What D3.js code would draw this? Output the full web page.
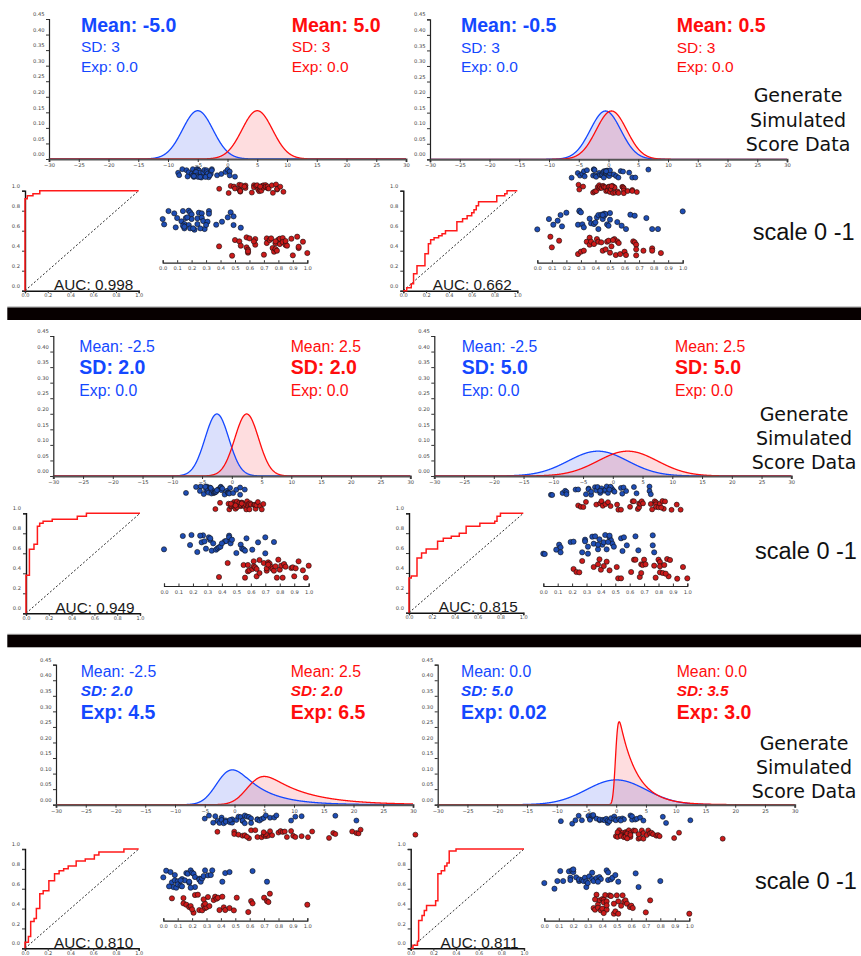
<!DOCTYPE html>
<html>
<head>
<meta charset="utf-8">
<script src="https://cdn.jsdelivr.net/npm/d3@7"></script>
<style>
body { margin: 0; background: #fff; }
svg { display: block; }
</style>
</head>
<body>
<svg id="chart" width="861" height="956"></svg>
<script>
// ---- data ----
// curve parameters per panel: [blue, red]  (gaussian mean, sd, exponential tau)
var curveMeans = [[-5, 5], [-0.5, 0.5], [-2.5, 2.5], [-2.5, 2.5], [-2.5, 2.5], [0, -0.1]]
var curveSds = [[2.57, 2.57], [2.57, 2.57], [2, 2], [5, 5], [2, 2], [5, 0.35]]
var curveTaus = [[0, 0], [0, 0], [0, 0], [0, 0], [4.5, 6.5], [0.02, 2.9]]

var blueLabels = [
    ["Mean: -5.0", "SD: 3", "Exp: 0.0"], ["Mean: -0.5", "SD: 3", "Exp: 0.0"],
    ["Mean: -2.5", "SD: 2.0", "Exp: 0.0"], ["Mean: -2.5", "SD: 5.0", "Exp: 0.0"],
    ["Mean: -2.5", "SD: 2.0", "Exp: 4.5"], ["Mean: 0.0", "SD: 5.0", "Exp: 0.02"]]
var redLabels = [
    ["Mean: 5.0", "SD: 3", "Exp: 0.0"], ["Mean: 0.5", "SD: 3", "Exp: 0.0"],
    ["Mean: 2.5", "SD: 2.0", "Exp: 0.0"], ["Mean: 2.5", "SD: 5.0", "Exp: 0.0"],
    ["Mean: 2.5", "SD: 2.0", "Exp: 6.5"], ["Mean: 0.0", "SD: 3.5", "Exp: 3.0"]]

var aucValues = ["0.998", "0.662", "0.949", "0.815", "0.810", "0.811"]

// raw score range of each panel (scaled 0..1 maps onto it)
var rawMin = [-8.3, -6.2, -7.7, -10.4, -5.0, -9.3]
var rawMax = [9.4, 6.7, 5.3, 11.4, 30.4, 17.9]

// scaled scores [value 0..1, jitter 0..60]
var blueScores = [
    [[0,25],[0.01,41],[0.04,1],[0.08,8],[0.10,22],[0.09,50],[0.14,1],[0.13,32],[0.15,40],[0.15,53],[0.16,22],[0.18,0],[0.19,5],[0.20,11],[0.20,25],[0.17,20],[0.18,43],[0.19,53],[0.22,57],[0.24,40],[0.24,23],[0.25,6],[0.27,8],[0.27,21],[0.28,31],[0.29,55],[0.26,53],[0.31,33],[0.32,1],[0.32,9],[0.30,43],[0.37,42],[0.41,33],[0.45,20],[0.47,5],[0.49,17],[0.49,43],[0.54,51],[0.14,45],[0.15,48],[0.21,53]],
    [[0,56],[0.08,25],[0.11,42],[0.14,30],[0.16,13],[0.17,47],[0.20,6],[0.28,42],[0.29,2],[0.29,0],[0.30,5],[0.31,41],[0.32,50],[0.36,24],[0.37,38],[0.39,40],[0.40,35],[0.41,20],[0.42,13],[0.42,55],[0.44,12],[0.45,25],[0.46,9],[0.46,15],[0.47,10],[0.48,41],[0.49,45],[0.50,27],[0.50,7],[0.55,34],[0.58,45],[0.61,55],[0.64,12],[0.67,15],[0.75,22],[0.79,55],[0.83,55],[1.0,2],[0.45,13]],
    [[0,46],[0.13,6],[0.19,3],[0.18,33],[0.23,54],[0.26,25],[0.27,4],[0.28,22],[0.29,44],[0.31,10],[0.32,18],[0.33,50],[0.34,28],[0.36,47],[0.37,43],[0.38,40],[0.39,38],[0.42,22],[0.43,21],[0.45,5],[0.45,10],[0.46,22],[0.46,28],[0.47,17],[0.50,57],[0.53,32],[0.54,44],[0.55,46],[0.56,50],[0.57,13],[0.61,47],[0.65,25],[0.70,58],[0.70,10],[0.76,24],[0.25,5],[0.32,13],[0.40,28]],
    [[0,59],[0.01,60],[0.09,47],[0.11,32],[0.12,40],[0.12,55],[0.19,24],[0.21,23],[0.27,55],[0.29,17],[0.29,22],[0.31,59],[0.31,38],[0.34,8],[0.35,29],[0.36,7],[0.38,46],[0.39,16],[0.41,32],[0.42,25],[0.43,3],[0.44,46],[0.46,10],[0.47,19],[0.48,29],[0.49,38],[0.54,13],[0.55,51],[0.56,10],[0.58,34],[0.64,7],[0.66,49],[0.76,4],[0.76,34],[0.77,55],[0.38,32],[0.46,5],[0.45,24]],
    [[0,26],[0.02,6],[0.05,10],[0.06,41],[0.08,19],[0.07,55],[0.08,35],[0.09,57],[0.10,38],[0.10,47],[0.12,51],[0.13,53],[0.13,31],[0.15,35],[0.16,13],[0.17,15],[0.18,42],[0.18,39],[0.19,5],[0.20,12],[0.21,15],[0.22,25],[0.22,55],[0.25,30],[0.25,33],[0.26,39],[0.27,29],[0.28,22],[0.29,5],[0.31,20],[0.33,19],[0.34,5],[0.41,39],[0.43,13],[0.46,10],[0.62,7],[0.72,39],[0.04,53],[0.12,35],[0.19,57]],
    [[0,43],[0.07,60],[0.09,37],[0.11,7],[0.13,37],[0.17,8],[0.18,27],[0.18,34],[0.19,5],[0.20,10],[0.22,26],[0.24,37],[0.24,32],[0.26,34],[0.27,37],[0.28,27],[0.29,55],[0.29,38],[0.30,43],[0.31,23],[0.33,12],[0.33,31],[0.34,37],[0.36,28],[0.38,25],[0.39,31],[0.43,5],[0.44,34],[0.44,11],[0.46,32],[0.47,27],[0.49,19],[0.51,39],[0.63,14],[0.65,55],[0.80,37],[0.20,2],[0.37,39]]]
var redScores = [
    [[0.39,32],[0.48,60],[0.50,13],[0.53,17],[0.54,30],[0.58,5],[0.58,35],[0.59,42],[0.59,51],[0.59,47],[0.60,8],[0.64,10],[0.64,27],[0.70,57],[0.72,8],[0.72,22],[0.74,13],[0.75,8],[0.76,37],[0.77,48],[0.78,23],[0.78,40],[0.79,45],[0.80,12],[0.81,25],[0.81,9],[0.83,7],[0.83,19],[0.85,28],[0.85,16],[0.86,30],[0.89,9],[0.90,59],[0.93,3],[0.94,37],[0.94,33],[0.97,18],[1.0,52],[0.63,17],[0.78,17]],
    [[0.09,3],[0.10,35],[0.15,15],[0.28,55],[0.30,48],[0.32,45],[0.34,18],[0.36,27],[0.36,6],[0.37,18],[0.39,25],[0.41,10],[0.42,18],[0.44,20],[0.45,45],[0.47,41],[0.48,18],[0.49,15],[0.50,51],[0.51,32],[0.53,10],[0.54,58],[0.55,17],[0.56,22],[0.57,55],[0.60,48],[0.61,58],[0.66,17],[0.67,20],[0.68,27],[0.68,41],[0.68,59],[0.73,45],[0.79,38],[0.79,45],[0.85,52],[0.52,13]],
    [[0.38,54],[0.44,12],[0.55,18],[0.56,56],[0.58,37],[0.59,34],[0.61,30],[0.62,7],[0.62,22],[0.63,25],[0.64,52],[0.66,3],[0.66,42],[0.69,12],[0.71,35],[0.71,28],[0.72,10],[0.73,14],[0.74,24],[0.75,30],[0.76,35],[0.77,22],[0.78,56],[0.79,2],[0.80,32],[0.81,20],[0.82,56],[0.83,15],[0.84,23],[0.88,27],[0.89,25],[0.90,52],[0.91,28],[0.93,7],[0.96,34],[0.98,56],[1.0,20],[0.72,17],[0.64,30],[0.58,18]],
    [[0.21,30],[0.23,39],[0.25,40],[0.27,6],[0.35,24],[0.38,16],[0.39,1],[0.40,32],[0.42,21],[0.44,8],[0.46,34],[0.51,24],[0.52,58],[0.54,58],[0.61,39],[0.63,2],[0.64,2],[0.67,54],[0.68,42],[0.68,16],[0.69,18],[0.70,2],[0.71,16],[0.77,20],[0.80,2],[0.81,9],[0.81,22],[0.81,40],[0.78,56],[0.83,42],[0.84,18],[0.86,0],[0.87,52],[0.88,3],[0.93,59],[0.97,24],[1.0,58],[0.85,44]],
    [[0.06,14],[0.14,13],[0.14,29],[0.16,33],[0.18,40],[0.19,37],[0.22,4],[0.24,3],[0.25,49],[0.27,50],[0.28,35],[0.29,43],[0.30,41],[0.29,30],[0.31,10],[0.35,19],[0.36,9],[0.37,15],[0.38,12],[0.39,49],[0.41,9],[0.42,41],[0.43,49],[0.46,43],[0.49,50],[0.51,12],[0.59,55],[0.61,22],[0.62,29],[0.70,12],[0.72,22],[0.73,25],[0.74,0],[1.0,33],[0.21,57],[0.32,37],[0.20,47],[0.28,17]],
    [[0.36,3],[0.38,20],[0.40,16],[0.41,18],[0.42,4],[0.34,43],[0.35,48],[0.37,33],[0.37,42],[0.39,50],[0.40,45],[0.41,26],[0.43,23],[0.43,48],[0.45,5],[0.46,7],[0.48,60],[0.49,53],[0.50,5],[0.51,60],[0.51,23],[0.53,36],[0.54,5],[0.55,24],[0.56,20],[0.57,30],[0.59,40],[0.60,36],[0.61,43],[0.70,56],[0.73,20],[1.0,60],[0.41,58],[0.48,30],[0.35,17],[0.43,35]]]

// ROC corners [false positive rate, true positive rate]
var rocPoints = [
    [[0,0],[0,0.92],[0.02,0.95],[0.07,0.97],[0.13,1],[1,1]],
    [[0,0],[0.03,0.03],[0.07,0.07],[0.09,0.17],[0.12,0.25],[0.19,0.37],[0.22,0.47],[0.24,0.51],[0.27,0.53],[0.31,0.55],[0.34,0.57],[0.37,0.6],[0.47,0.69],[0.52,0.72],[0.56,0.75],[0.6,0.78],[0.62,0.81],[0.64,0.85],[0.66,0.89],[0.82,0.95],[0.89,0.97],[0.91,1],[1,1]],
    [[0,0],[0,0.38],[0.03,0.64],[0.07,0.69],[0.1,0.87],[0.12,0.9],[0.15,0.92],[0.23,0.94],[0.45,0.97],[0.53,1],[1,1]],
    [[0,0],[0,0.35],[0.02,0.37],[0.07,0.55],[0.11,0.6],[0.15,0.64],[0.25,0.72],[0.3,0.75],[0.37,0.77],[0.44,0.8],[0.5,0.87],[0.62,0.9],[0.75,0.92],[0.77,0.97],[0.8,1],[1,1]],
    [[0,0],[0,0.06],[0.03,0.12],[0.05,0.27],[0.08,0.3],[0.1,0.4],[0.13,0.55],[0.16,0.58],[0.21,0.68],[0.26,0.75],[0.3,0.78],[0.34,0.8],[0.38,0.83],[0.45,0.88],[0.53,0.9],[0.61,0.94],[0.65,0.97],[0.87,1],[1,1]],
    [[0,0],[0.02,0.03],[0.06,0.07],[0.07,0.28],[0.1,0.33],[0.12,0.38],[0.14,0.43],[0.22,0.48],[0.24,0.75],[0.27,0.78],[0.3,0.83],[0.32,0.86],[0.34,0.98],[0.4,1],[1,1]]]

var sideTitle = ["Generate", "Simulated", "Score Data"]
var sideScale = "scale 0 -1"

// ---- layout ----
var panels = [
    {dx: 49, dy: 159, sx: 162.7, sy: 262.7, sw: 144.6, rx: 25, ry: 290.7, rw: 113.7, rh: 100, tb: 81, tr: 291.7},
    {dx: 430, dy: 159.3, sx: 537.3, sy: 262.7, sw: 145.4, rx: 403.3, ry: 290.7, rw: 114, rh: 100, tb: 461, tr: 676.7},
    {dx: 53.3, dy: 476, sx: 164, sy: 586, sw: 144.7, rx: 26, ry: 613.3, rw: 114, rh: 100, tb: 79.3, tr: 290.7},
    {dx: 434.3, dy: 476, sx: 543.3, sy: 586, sw: 144, rx: 409, ry: 612.7, rw: 114.3, rh: 99.4, tb: 461.7, tr: 675},
    {dx: 56, dy: 804.7, sx: 163.3, sy: 920.7, sw: 144, rx: 25, ry: 948.3, rw: 113.7, rh: 99.3, tb: 80.7, tr: 290.7},
    {dx: 437.7, dy: 804.7, sx: 544.3, sy: 920.7, sw: 145, rx: 410.7, ry: 948.3, rw: 113.3, rh: 99.3, tb: 461, tr: 676.7}]

// label line styles per row: [weight, size, italic, baseline offset from zero line]
var rowStyles = [
    [["bold", 19.5, false, -127], ["normal", 15.5, false, -106.7], ["normal", 15.5, false, -87]],
    [["normal", 15.8, false, -124.5], ["bold", 19.5, false, -102], ["normal", 15.8, false, -80.3]],
    [["normal", 15.8, false, -128], ["bold", 15.3, true, -108.8], ["bold", 19.5, false, -85.7]]]
var sideRows = [
    {cx: 798, base: [102, 126.5, 150.5], sxl: 752.7, sb: 240},
    {cx: 804, base: [420.7, 445, 469.3], sxl: 755, sb: 559},
    {cx: 804, base: [750, 774, 797.7], sxl: 755, sb: 889}]

var blueCol = "#1448ff", redCol = "#ff0d0d"
var font = "'Liberation Sans', Arial, sans-serif"
var tickFont = "'DejaVu Sans', Verdana, sans-serif"

var svg = d3.select("#chart")

// separators
svg.append("rect").attr("x", 7.3).attr("y", 306.5).attr("width", 854).attr("height", 1).attr("fill", "#999")
svg.append("rect").attr("x", 7.3).attr("y", 307.5).attr("width", 854).attr("height", 12.5).attr("fill", "#070000")
svg.append("rect").attr("x", 7.3).attr("y", 633.8).attr("width", 854).attr("height", 1).attr("fill", "#999")
svg.append("rect").attr("x", 7.3).attr("y", 634.8).attr("width", 854).attr("height", 12.5).attr("fill", "#070000")

function erfc(x) {
    // Abramowitz-Stegun 7.1.26, x >= 0
    var t = 1 / (1 + 0.3275911 * x)
    var p = t * (0.254829592 + t * (-0.284496736 + t * (1.421413741 + t * (-1.453152027 + t * 1.061405429))))
    return p * Math.exp(-x * x)
}
function phi(z) {
    var v = 0.5 * erfc(Math.abs(z) / Math.SQRT2)
    return z < 0 ? v : 1 - v
}
function density(x, mu, sd, tau) {
    if (tau < 0.05) {
        return Math.exp(-0.5 * Math.pow((x - mu) / sd, 2)) / (sd * Math.sqrt(2 * Math.PI))
    }
    var z = (x - mu) / sd - sd / tau
    if (z < -30) return 0
    return Math.exp(sd * sd / (2 * tau * tau) - (x - mu) / tau) * phi(z) / tau
}

function styleTicks(g, size) {
    g.selectAll("text").attr("font-family", tickFont).attr("font-size", size).attr("fill", "#444")
    g.selectAll("line").attr("stroke", "#333")
}

var xs = d3.range(-30, 30.001, 0.05)

panels.forEach(function (p, i) {
    var row = Math.floor(i / 2)
    var g = svg.append("g")

    var x = d3.scaleLinear().domain([-30, 30]).range([p.dx, p.dx + 357])
    var y = d3.scaleLinear().domain([0, 0.45]).range([p.dy, p.dy - 140])

    // density curves
    var groups = [
        {col: blueCol, fill: "rgba(40,70,235,0.17)", k: 0},
        {col: redCol, fill: "rgba(245,30,40,0.15)", k: 1}]
    groups.forEach(function (grp) {
        grp.pts = xs.map(function (v) {
            return [v, density(v, curveMeans[i][grp.k], curveSds[i][grp.k], curveTaus[i][grp.k])]
        })
        g.append("path").datum(grp.pts)
            .attr("fill", grp.fill)
            .attr("d", d3.area().x(d => x(d[0])).y0(y(0)).y1(d => y(d[1])))
    })
    groups.forEach(function (grp) {
        g.append("path").datum(grp.pts)
            .attr("fill", "none").attr("stroke", grp.col).attr("stroke-width", 1.3)
            .attr("d", d3.line().x(d => x(d[0])).y(d => y(d[1])))
    })

    // density axes
    var ya = g.append("g").attr("transform", "translate(" + p.dx + ",0)")
        .call(d3.axisLeft(y).tickValues(d3.range(0, 0.451, 0.05)).tickFormat(d3.format(".2f")).tickSize(3).tickPadding(1.5))
    ya.select(".domain").attr("stroke", "#222").attr("stroke-width", 1.2)
    ya.selectAll("text").attr("transform", "translate(0,-5)")
    styleTicks(ya, 5.2)
    var xa = g.append("g").attr("transform", "translate(0," + p.dy + ")")
        .call(d3.axisBottom(x).tickValues(d3.range(-30, 31, 5)).tickSize(3).tickPadding(1.5))
    xa.select(".domain").attr("stroke", "#555").attr("stroke-width", 2)
    styleTicks(xa, 5.2)

    // parameter labels
    var st = rowStyles[row]
    ;[[blueLabels[i], p.tb, blueCol], [redLabels[i], p.tr, redCol]].forEach(function (lab) {
        lab[0].forEach(function (t, j) {
            g.append("text").text(t)
                .attr("x", lab[1]).attr("y", p.dy + st[j][3])
                .attr("font-family", font).attr("font-size", st[j][1])
                .attr("font-weight", st[j][0]).attr("font-style", st[j][2] ? "italic" : "normal")
                .attr("fill", lab[2])
        })
    })

    // raw score strips
    var raw = d3.scaleLinear().domain([0, 1]).range([rawMin[i], rawMax[i]])
    var jb = d3.scaleLinear().domain([0, 60]).range([p.dy + 10, p.dy + 19])
    var jr = d3.scaleLinear().domain([0, 60]).range([p.dy + 25, p.dy + 34])
    g.selectAll(".rb").data(blueScores[i]).enter().append("circle")
        .attr("cx", d => x(raw(d[0]))).attr("cy", d => jb(d[1])).attr("r", 2.5)
        .attr("fill", "#1e4db4").attr("stroke", "#111").attr("stroke-width", 0.6)
    g.selectAll(".rr").data(redScores[i]).enter().append("circle")
        .attr("cx", d => x(raw(d[0]))).attr("cy", d => jr(d[1])).attr("r", 2.5)
        .attr("fill", "#cc1a1a").attr("stroke", "#111").attr("stroke-width", 0.6)

    // scaled scores
    var sx = d3.scaleLinear().domain([0, 1]).range([p.sx, p.sx + p.sw])
    var sjb = d3.scaleLinear().domain([0, 60]).range([p.sy - 52, p.sy - 32])
    var sjr = d3.scaleLinear().domain([0, 60]).range([p.sy - 27, p.sy - 7])
    var sa = g.append("g").attr("transform", "translate(0," + p.sy + ")")
        .call(d3.axisBottom(sx).tickValues(d3.range(0, 1.01, 0.1)).tickFormat(d3.format(".1f")).tickSize(-2.5).tickPadding(4))
    sa.select(".domain").attr("stroke", "#222").attr("stroke-width", 1.2)
    styleTicks(sa, 5.2)
    g.selectAll(".sb").data(blueScores[i]).enter().append("circle")
        .attr("cx", d => sx(d[0])).attr("cy", d => sjb(d[1])).attr("r", 2.6)
        .attr("fill", "#1e4db4").attr("stroke", "#111").attr("stroke-width", 0.6)
    g.selectAll(".sr").data(redScores[i]).enter().append("circle")
        .attr("cx", d => sx(d[0])).attr("cy", d => sjr(d[1])).attr("r", 2.6)
        .attr("fill", "#cc1a1a").attr("stroke", "#111").attr("stroke-width", 0.6)

    // ROC
    var rx = d3.scaleLinear().domain([0, 1]).range([p.rx, p.rx + p.rw])
    var ry = d3.scaleLinear().domain([0, 1]).range([p.ry, p.ry - p.rh])
    var ra = g.append("g").attr("transform", "translate(" + p.rx + ",0)")
        .call(d3.axisLeft(ry).tickValues(d3.range(0, 1.01, 0.2)).tickFormat(d3.format(".1f")).tickSize(3).tickPadding(2))
    ra.select(".domain").attr("stroke", "#111").attr("stroke-width", 1.4)
    ra.selectAll("text").attr("transform", "translate(0,-5)")
    styleTicks(ra, 5.2)
    var rb = g.append("g").attr("transform", "translate(0," + p.ry + ")")
        .call(d3.axisBottom(rx).tickValues(d3.range(0, 1.01, 0.2)).tickFormat(d3.format(".1f")).tickSize(2.5).tickPadding(0.5))
    rb.select(".domain").attr("stroke", "#111").attr("stroke-width", 1.4)
    styleTicks(rb, 5)
    g.append("line").attr("x1", rx(0)).attr("y1", ry(0)).attr("x2", rx(1)).attr("y2", ry(1))
        .attr("stroke", "#111").attr("stroke-width", 0.9).attr("stroke-dasharray", "2,2")
    g.append("path").datum(rocPoints[i])
        .attr("fill", "none").attr("stroke", "#ff1a1a").attr("stroke-width", 1.5)
        .attr("d", d3.line().x(d => rx(d[0])).y(d => ry(d[1])).curve(d3.curveStepAfter))
    g.append("text").text("AUC: " + aucValues[i])
        .attr("x", p.rx + p.rw - 5.5).attr("y", p.ry - 0.5).attr("text-anchor", "end")
        .attr("font-family", font).attr("font-size", 15.3).attr("fill", "#1a1a1a")
})

// side notes
sideRows.forEach(function (s) {
    sideTitle.forEach(function (t, j) {
        svg.append("text").text(t).attr("x", s.cx).attr("y", s.base[j]).attr("text-anchor", "middle")
            .attr("font-family", tickFont).attr("font-size", 19).attr("fill", "#111")
    })
    svg.append("text").text(sideScale).attr("x", s.sxl).attr("y", s.sb)
        .attr("font-family", font).attr("font-size", 23.5).attr("fill", "#111")
})
</script>
</body>
</html>
